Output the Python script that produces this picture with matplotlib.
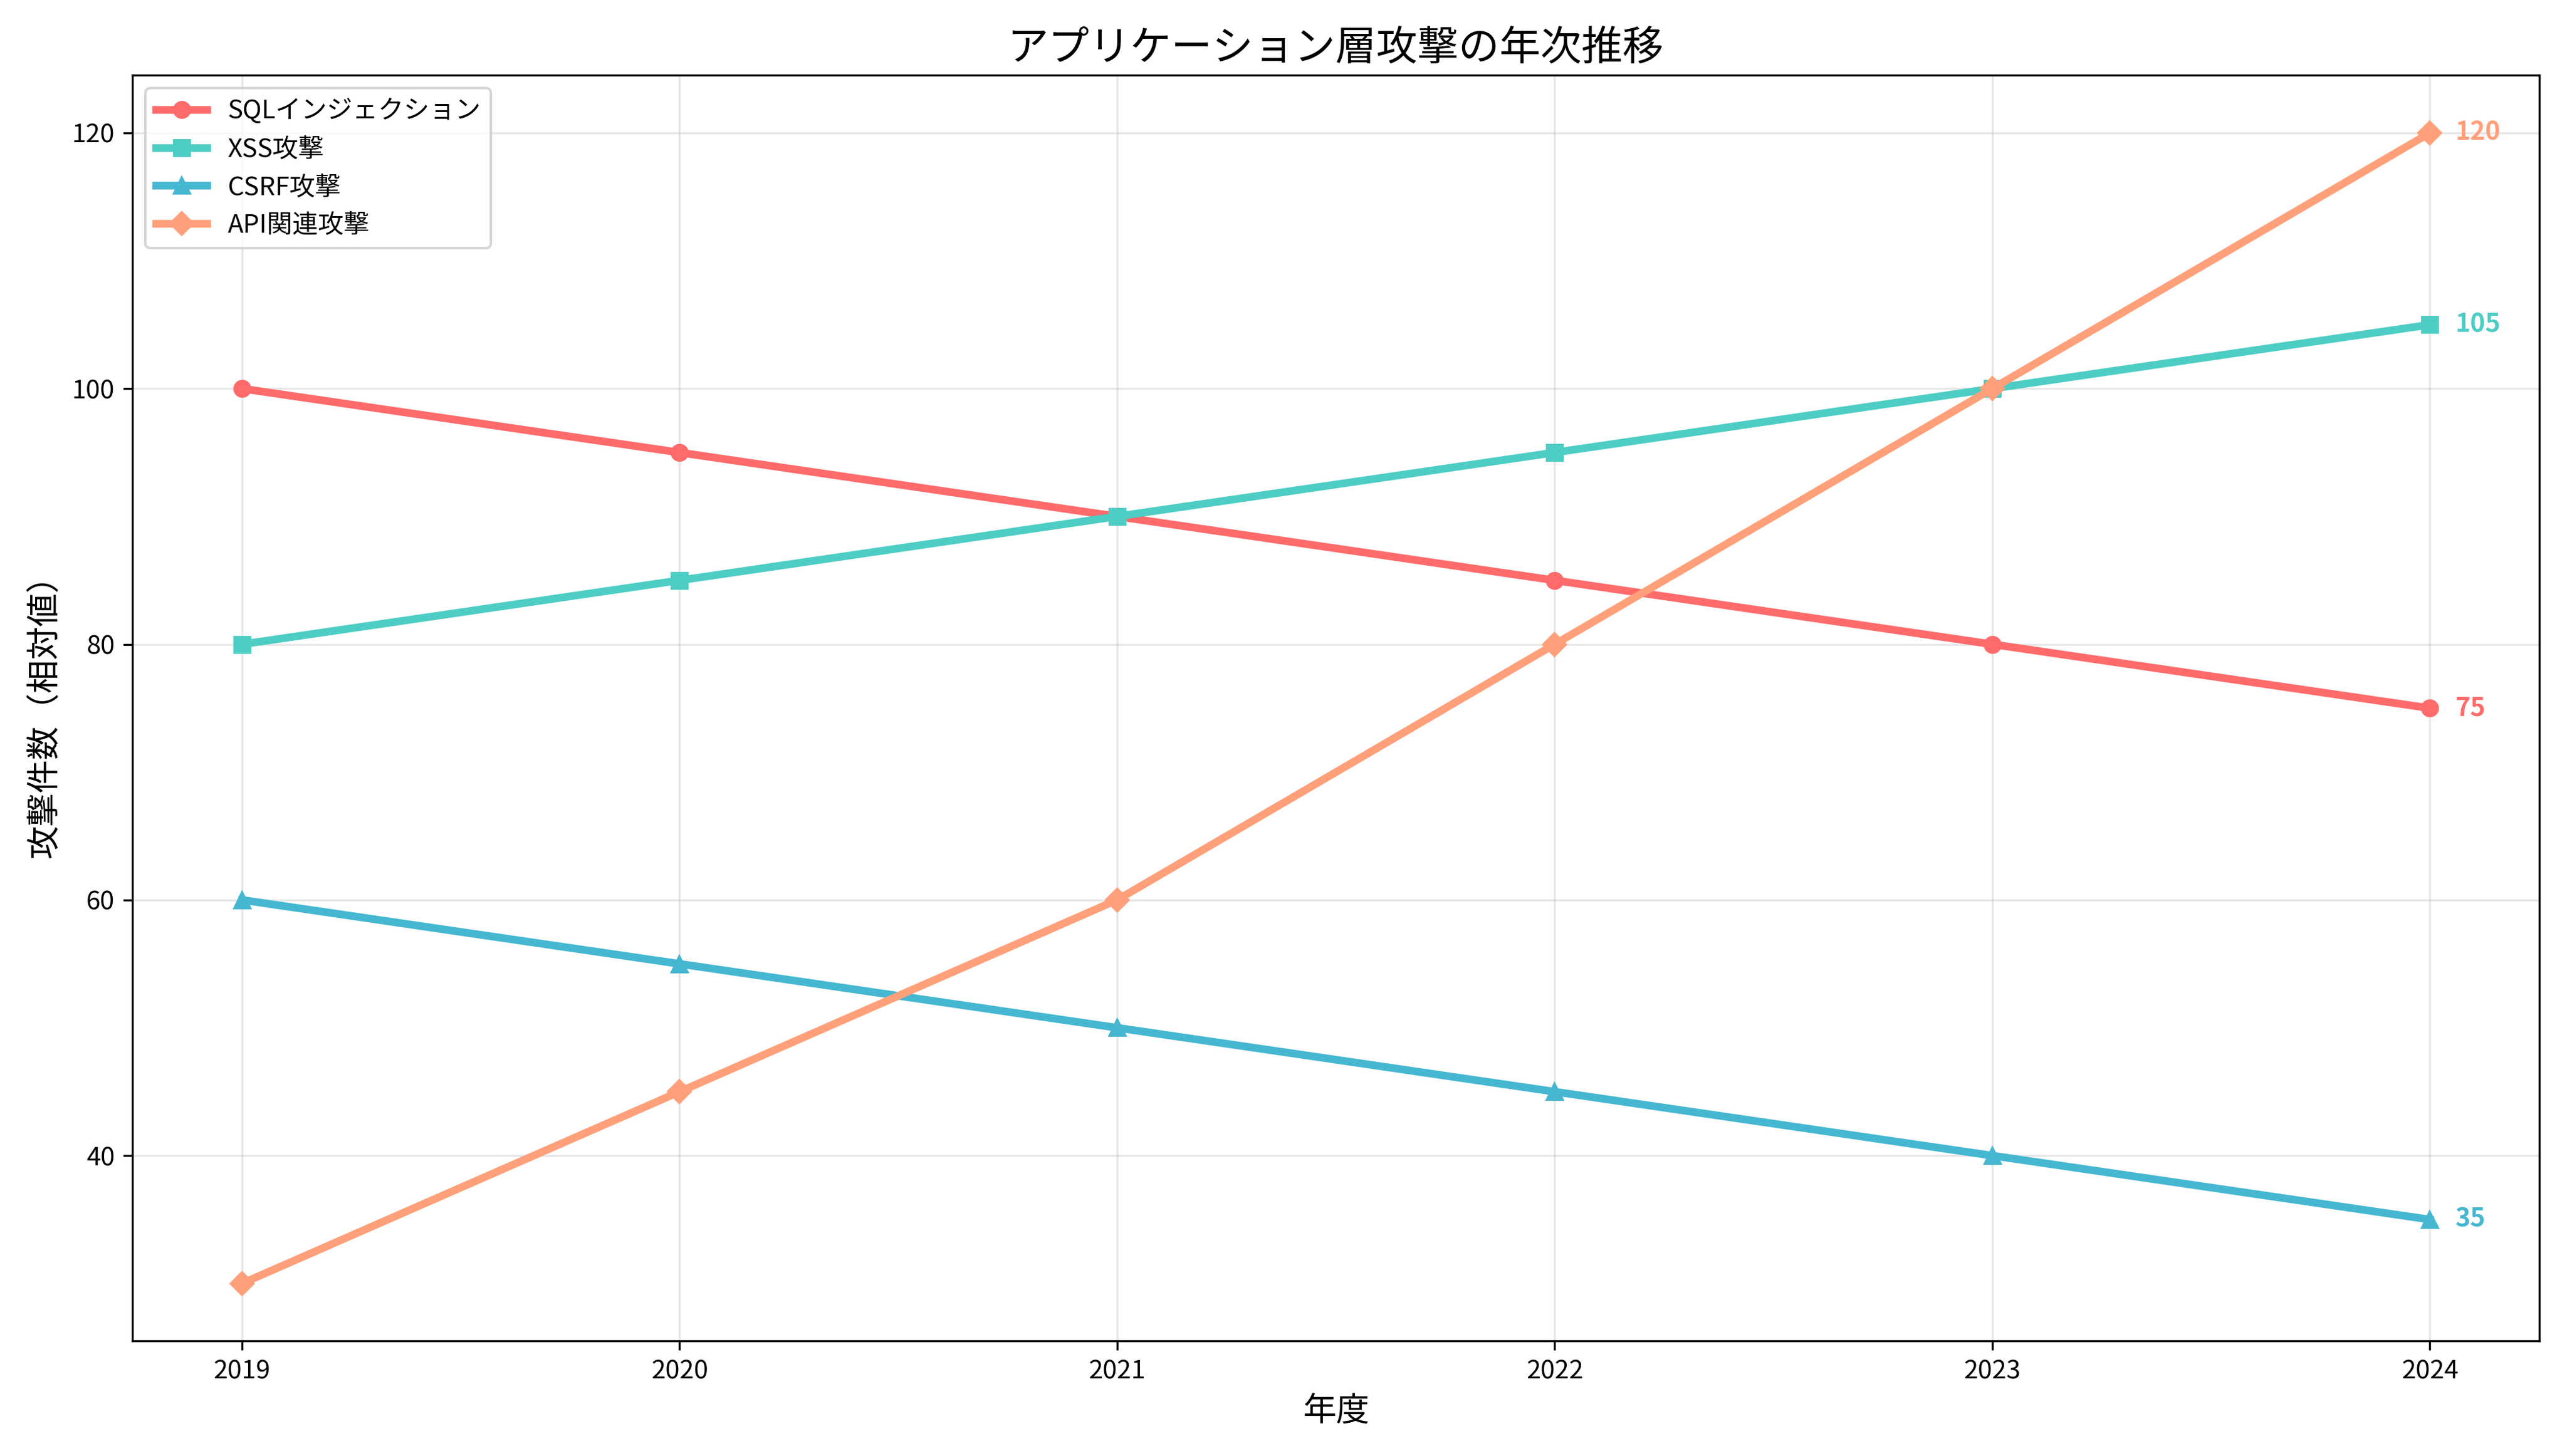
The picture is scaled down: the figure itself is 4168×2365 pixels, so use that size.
import matplotlib
matplotlib.use("Agg")
import matplotlib.pyplot as plt

plt.rcParams["font.family"] = ["Noto Sans CJK JP", "DejaVu Sans"]

years = [2019, 2020, 2021, 2022, 2023, 2024]
sql = [100, 95, 90, 85, 80, 75]
xss = [80, 85, 90, 95, 100, 105]
csrf = [60, 55, 50, 45, 40, 35]
api = [30, 45, 60, 80, 100, 120]
names = ["SQLインジェクション", "XSS攻撃", "CSRF攻撃", "API関連攻撃"]
colors = ["#FF6B6B", "#4ECDC4", "#45B7D1", "#FFA07A"]
markers = ["o", "s", "^", "D"]

fig, ax = plt.subplots(figsize=(4168/300, 2365/300), dpi=300)
for vals, n, c, m in zip([sql, xss, csrf, api], names, colors, markers):
    ax.plot(years, vals, color=c, marker=m, linewidth=3, markersize=6, label=n)
    ax.annotate(str(vals[-1]), xy=(years[-1], vals[-1]), xytext=(10, 0),
                textcoords="offset points", color=c, fontweight="bold",
                fontsize=10, va="center")
ax.set_title("アプリケーション層攻撃の年次推移", fontsize=16)
ax.set_xlabel("年度", fontsize=13)
ax.set_ylabel("攻撃件数（相対値）", fontsize=13)
ax.set_xticks(years)
ax.grid(True, alpha=0.3)
ax.legend(loc="upper left", fontsize=10)
fig.tight_layout()
fig.savefig("out.png", dpi=300)
